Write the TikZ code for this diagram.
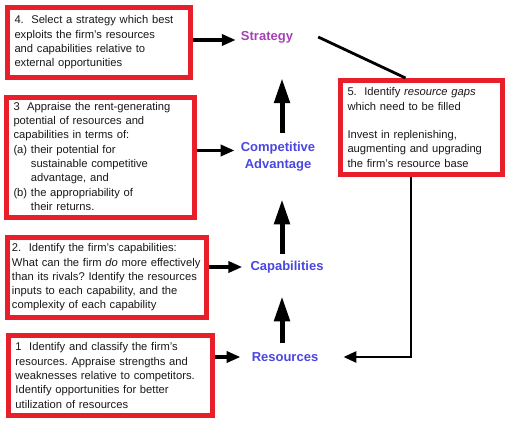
\documentclass[tikz,border=0pt]{standalone}
\usepackage{fontspec}
\setmainfont{Liberation Sans}
\usetikzlibrary{arrows.meta,calc}
\definecolor{boxred}{RGB}{232,30,42}
\definecolor{lblblue}{RGB}{75,70,225}
\definecolor{lblpurple}{RGB}{165,65,180}
\tikzset{
  redbox/.style={draw=boxred, line width=5pt, fill=white, align=left, inner xsep=7pt, inner ysep=3pt,
    font=\fontsize{11.2}{14.3}\selectfont\frenchspacing, text=black!90},
  lbl/.style={font=\fontsize{13}{17}\selectfont\bfseries, text=lblblue, inner sep=1pt, align=center},
  harrow/.style={line width=3.5pt, -{Triangle[length=14pt,width=11pt]}},
  varrow/.style={line width=5pt, -{Triangle[length=25pt,width=15pt]}},
  fbline/.style={line width=2.8pt},
  fbarrow/.style={line width=2.8pt, -{Triangle[length=13pt,width=11pt]}}
}
\begin{document}
\begin{tikzpicture}[x=1pt,y=-1pt]
\useasboundingbox (0,0) rectangle (516,427);
% boxes
\node[redbox, minimum width=183pt, minimum height=70pt, text width=169pt] (b4) at (99,42.5)
 {4.\ \ Select a strategy which best\\exploits the firm's resources\\and capabilities relative to\\external opportunities};
\node[redbox, minimum width=188pt, minimum height=120pt, text width=174pt] (b3) at (100.5,157.5)
 {3\ \ Appraise the rent-generating\\potential of resources and\\capabilities in terms of:\\(a) their potential for\\\phantom{(a) }sustainable competitive\\\phantom{(a) }advantage, and\\(b) the appropriability of\\\phantom{(b) }their returns.};
\node[redbox, minimum width=199pt, minimum height=80pt, inner xsep=4.5pt, text width=190pt] (b2) at (107,277.5)
 {2.\ \ Identify the firm's capabilities:\\What can the firm \textit{do} more effectively\\than its rivals? Identify the resources\\inputs to each capability, and the\\complexity of each capability};
\node[redbox, minimum width=204pt, minimum height=80pt, text width=190pt] (b1) at (110.5,375.5)
 {1\ \ Identify and classify the firm's\\resources. Appraise strengths and\\weaknesses relative to competitors.\\Identify opportunities for better\\utilization of resources};
\node[redbox, minimum width=162pt, minimum height=94pt, text width=148pt] (b5) at (421.5,127.5)
 {5.\ \ Identify \textit{resource gaps}\\which need to be filled\\[14.3pt]Invest in replenishing,\\augmenting and upgrading\\the firm's resource base};
% labels
\node[lbl, text=lblpurple] (strat) at (267,37) {Strategy};
\node[lbl] (ca) at (278,156.5) {Competitive\\Advantage};
\node[lbl] (cap) at (287,267) {Capabilities};
\node[lbl] (res) at (285,357) {Resources};
% horizontal arrows
\draw[harrow, shorten >=4pt] ([yshift=-3pt]b4.east |- strat) -- ([yshift=-3pt]strat.west);
\draw[harrow, shorten >=5pt] ([yshift=7pt]b3.east) -- ([yshift=7pt]b3.east -| ca.west);
\draw[harrow, shorten >=7pt] (b2.east |- cap) -- (cap.west);
\draw[harrow, shorten >=10pt] (b1.east |- res) -- (res.west);
% vertical arrows
\draw[varrow, shorten <=8pt, shorten >=22pt] ([xshift=-3pt]res.north) -- ([xshift=-3pt]res.north |- cap.south);
\draw[varrow, shorten <=6pt, shorten >=27pt] ([xshift=-3pt]res.north |- cap.north) -- ([xshift=-3pt]res.north |- ca.south);
\draw[varrow, shorten <=8pt, shorten >=34pt] ([xshift=-3pt]res.north |- ca.north) -- ([xshift=-3pt]res.north |- strat.south);
% feedback
\draw[fbline] ([xshift=24pt]strat.east) -- ([xshift=-16pt]b5.north);
\draw[fbarrow, shorten >=24pt] ([xshift=-10.5pt]b5.south) |- (res.east);
\end{tikzpicture}
\end{document}
